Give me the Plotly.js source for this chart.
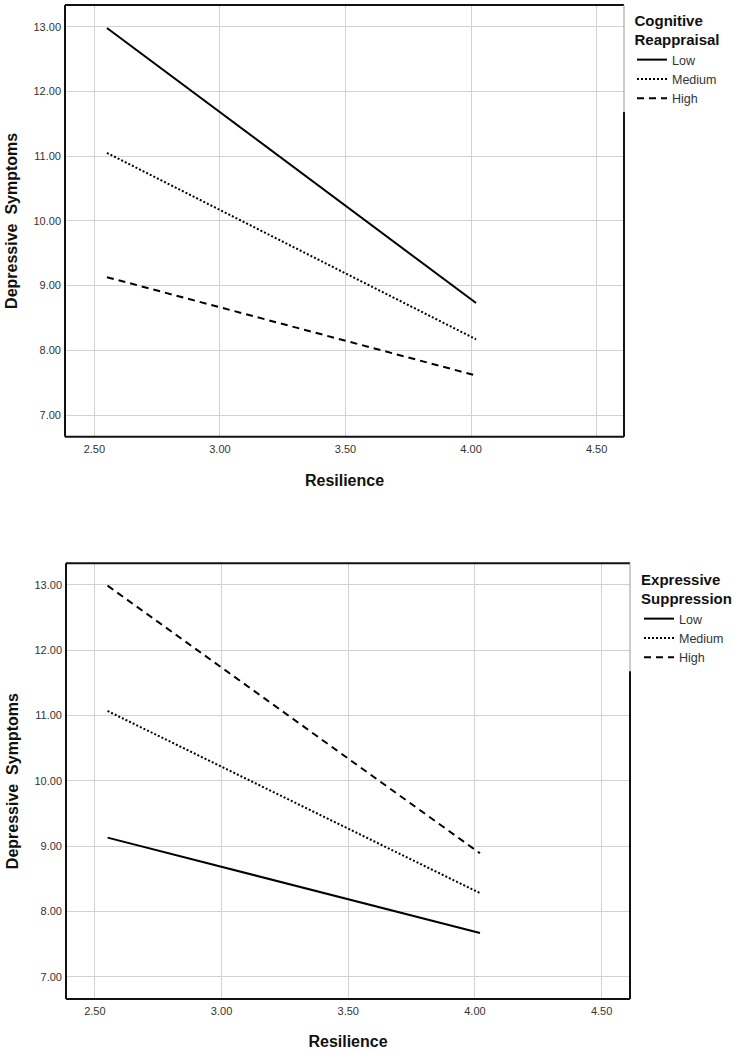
<!DOCTYPE html>
<html>
<head>
<meta charset="utf-8">
<script src="https://cdn.plot.ly/plotly-3.0.1.min.js"></script>
<style>
  html, body { margin: 0; padding: 0; background: #ffffff; }
  #chart { width: 740px; height: 1050px; }
</style>
</head>
<body>
<div id="chart"></div>
<script>
// ---- data ----
const resilience = [2.55, 4.02];
const levels = ["Low", "Medium", "High"];

const reappraisalLow = [12.98, 8.73];
const reappraisalMedium = [11.05, 8.17];
const reappraisalHigh = [9.13, 7.61];

const suppressionLow = [9.13, 7.67];
const suppressionMedium = [11.07, 8.28];
const suppressionHigh = [12.99, 8.89];

const xTickVals = [2.5, 3.0, 3.5, 4.0, 4.5];
const yTickVals = [7, 8, 9, 10, 11, 12, 13];

const xTitle = "Resilience";
const yTitle = "Depressive  Symptoms";
const legendTitleTop = "Cognitive<br>Reappraisal";
const legendTitleBottom = "Expressive<br>Suppression";

// ---- styling ----
const FONT = "Liberation Sans, Arial, sans-serif";
const dashes = ["solid", "2px,2px", "7px,5px"];

function mk(y, i, xa, ya, lg) {
  return {
    x: resilience, y: y, type: "scatter", mode: "lines",
    name: levels[i], xaxis: xa, yaxis: ya, legend: lg,
    line: { color: "#000000", width: 2, dash: dashes[i] },
    hoverinfo: "skip"
  };
}

const traces = [
  mk(reappraisalLow, 0, "x", "y", "legend"),
  mk(reappraisalMedium, 1, "x", "y", "legend"),
  mk(reappraisalHigh, 2, "x", "y", "legend"),
  mk(suppressionLow, 0, "x2", "y2", "legend2"),
  mk(suppressionMedium, 1, "x2", "y2", "legend2"),
  mk(suppressionHigh, 2, "x2", "y2", "legend2")
];

const W = 740, H = 1050;
function xd(a, b) { return [a / W, b / W]; }
function yd(top, bottom) { return [1 - bottom / H, 1 - top / H]; }

function xaxis(dom, anchor, rng) {
  return {
    domain: dom, anchor: anchor, range: rng,
    tickvals: xTickVals, tickformat: ".2f",
    ticks: "", showline: false, zeroline: false,
    showgrid: true, gridcolor: "#d2d2d2", gridwidth: 1,
    tickfont: { family: FONT, size: 11, color: "#333333" },
    ticklabelstandoff: 4,
    title: { text: xTitle, font: { family: FONT, size: 16, color: "#111111", weight: "bold" }, standoff: 21 },
    automargin: false, fixedrange: true
  };
}
function yaxis(dom, anchor, rng) {
  return {
    domain: dom, anchor: anchor, range: rng,
    tickvals: yTickVals, tickformat: ".2f",
    ticks: "", showline: false, zeroline: false,
    showgrid: true, gridcolor: "#d2d2d2", gridwidth: 1,
    tickfont: { family: FONT, size: 11, color: "#333333" },
    ticklabelstandoff: 3,
    title: { text: yTitle, font: { family: FONT, size: 16, color: "#111111", weight: "bold" }, standoff: 11 },
    automargin: false, fixedrange: true
  };
}

function frame(xr, yr) {
  const thick = { color: "#111111", width: 2 };
  const thin = { color: "#9a9a9a", width: 1 };
  return [
    { type: "line", xref: xr + " domain", yref: yr + " domain", x0: 0, x1: 0, y0: 0, y1: 1, line: thick },
    { type: "line", xref: xr + " domain", yref: yr + " domain", x0: 0, x1: 1, y0: 1, y1: 1, line: thick },
    { type: "line", xref: xr + " domain", yref: yr + " domain", x0: 0, x1: 1, y0: 0, y1: 0, line: thick },
    { type: "line", xref: xr + " domain", yref: yr + " domain", x0: 1, x1: 1, y0: 0.752, y1: 1, line: thin },
    { type: "line", xref: xr + " domain", yref: yr + " domain", x0: 1, x1: 1, y0: 0, y1: 0.752, line: thick }
  ];
}

function legendCfg(x, y, title) {
  return {
    x: x, y: y, xanchor: "left", yanchor: "top", xref: "paper", yref: "paper",
    bgcolor: "rgba(0,0,0,0)", borderwidth: 0, tracegroupgap: 0,
    itemwidth: 30, itemclick: false, itemdoubleclick: false,
    font: { family: FONT, size: 12.5, color: "#333333" },
    title: { text: title, side: "top center", font: { family: FONT, size: 15, color: "#111111", weight: "bold" } }
  };
}

const layout = {
  width: W, height: H,
  margin: { l: 0, r: 0, t: 0, b: 0 },
  paper_bgcolor: "#ffffff", plot_bgcolor: "#ffffff",
  showlegend: true,
  xaxis: xaxis(xd(65, 624), "y", [2.383, 4.609]),
  yaxis: yaxis(yd(5, 436.7), "x", [6.665, 13.335]),
  xaxis2: xaxis(xd(66, 630), "y2", [2.386, 4.612]),
  yaxis2: yaxis(yd(563.3, 999), "x2", [6.658, 13.332]),
  legend: legendCfg(632 / W, 1 - 6 / H, legendTitleTop),
  legend2: legendCfg(639 / W, 1 - 565 / H, legendTitleBottom),
  shapes: frame("x", "y").concat(frame("x2", "y2"))
};

Plotly.newPlot("chart", traces, layout, { displayModeBar: false, staticPlot: true });
</script>
</body>
</html>
